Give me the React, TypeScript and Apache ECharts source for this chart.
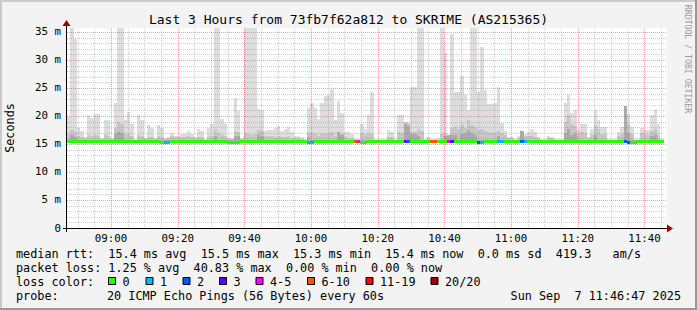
import React, { useEffect, useRef } from "react";
import * as echarts from "echarts";

const FONT = "'DejaVu Sans Mono', 'Liberation Mono', monospace";

const TITLE = "Last 3 Hours from 73fb7f62a812 to SKRIME (AS215365)";
const START_MINUTE = 8 * 60 + 46 + 47 / 60; // 08:46:47
const RANGE_MINUTES = 180;
const Y_MAX = 35.71;

const timeTickMinutes = [540, 560, 580, 600, 620, 640, 660, 680, 700];
const yTickValues = [0, 5, 10, 15, 20, 25, 30, 35];

// smoke: top of the lightest band (max ping), ms per 1-minute step
const smokeMax = [
  19.9, 38, 33.8, 17.9, 17.4, 16.2, 20.2, 19.6, 20.4, 20.3,
  16.0, 19.2, 19.2, 16.0, 22.3, 38, 38, 19.2, 20.7, 18.6,
  15.9, 20.1, 19.2, 16.0, 18.4, 17.9, 16.0, 18.4, 17.9, 16.0,
  16.2, 17.0, 16.5, 16.5, 16.7, 16.8, 17.4, 16.8, 16.2, 17.7,
  17.4, 15.9, 17.9, 18.6, 38, 38, 19.5, 18.8, 16.0, 16.0,
  23.2, 20.9, 16.0, 38, 38, 38, 38, 21.3, 21.1, 17.4,
  17.5, 17.5, 17.9, 18.3, 17.4, 17.7, 18.1, 17.1, 16.5, 16.5,
  16.2, 15.9, 21.5, 22.4, 21.5, 19.5, 22.4, 23.6, 23.8, 24.8,
  19.2, 22.7, 20.5, 17.1, 17.1, 16.8, 15.9, 15.9, 18.6, 17.7,
  20.2, 24.2, 15.9, 15.9, 15.9, 15.9, 17.5, 17.1, 15.9, 20.2,
  20.2, 18.9, 18.9, 25.1, 25.1, 38, 38, 15.9, 16.3, 15.9,
  15.9, 16.0, 38, 31.2, 16.5, 34.7, 24.2, 24.2, 27.2, 23.8,
  21.0, 38, 38, 24.2, 32.4, 24.6, 22.1, 22.1, 22.3, 25.1,
  18.8, 17.4, 16.2, 16.2, 15.9, 16.5, 17.4, 16.8, 17.1, 17.7,
  17.1, 16.2, 15.9, 15.9, 16.5, 16.3, 15.9, 15.9, 15.9, 22.4,
  23.7, 20.5, 21.1, 17.5, 18.6, 18.6, 16.3, 17.7, 21.1, 19.3,
  18.0, 18.0, 15.9, 15.9, 15.9, 17.1, 18.0, 21.7, 20.4, 18.0,
  15.9, 15.9, 17.9, 17.5, 17.5, 20.1, 21.1, 18.6, 15.9, null,
];

// smoke: top of the middle band
const smokeMid = [
  16.8, 17.5, 17.2, 16.4, 16.3, 16.0, 16.6, 16.5, 16.6, 16.4,
  15.9, 16.6, 16.5, 15.9, 17.8, 19.0, 18.5, 16.8, 16.7, 16.4,
  15.8, 16.6, 16.5, 15.9, 16.3, 16.2, 15.9, 16.4, 16.2, 15.9,
  16.0, 16.5, 16.2, 16.3, 16.2, 16.3, 16.4, 16.2, 16.0, 16.3,
  16.2, 15.8, 16.3, 16.4, 17.6, 17.0, 16.6, 16.5, 15.9, 15.9,
  17.4, 17.2, 15.9, 17.0, 16.8, 16.6, 16.7, 17.5, 17.3, 16.4,
  16.5, 16.4, 16.3, 16.4, 16.2, 16.3, 16.4, 16.1, 16.0, 16.0,
  15.9, 15.8, 17.2, 17.0, 16.8, 16.5, 16.9, 16.8, 17.0, 17.2,
  16.4, 17.1, 16.8, 16.2, 16.1, 16.1, 15.8, 15.8, 17.0, 16.6,
  16.9, 16.8, 15.8, 15.8, 15.8, 15.8, 16.3, 16.2, 15.8, 17.1,
  17.0, 18.9, 18.6, 17.1, 17.2, 17.6, 17.4, 15.8, 16.0, 15.8,
  15.8, 15.8, 16.8, 16.9, 16.6, 17.8, 18.0, 17.6, 18.4, 17.9,
  19.2, 18.4, 18.0, 17.5, 17.6, 17.3, 17.2, 17.0, 16.9, 17.4,
  17.0, 16.6, 16.0, 16.0, 15.8, 16.1, 17.4, 16.4, 16.4, 16.5,
  16.3, 16.0, 15.8, 15.8, 16.1, 16.0, 15.8, 15.8, 15.8, 19.0,
  20.2, 18.6, 18.2, 16.8, 17.2, 17.0, 16.0, 16.6, 18.3, 17.6,
  16.8, 16.7, 15.8, 15.8, 15.8, 16.4, 16.8, 21.7, 18.6, 16.8,
  15.8, 15.8, 16.9, 16.8, 16.6, 17.4, 17.6, 16.6, 15.8, null,
];

// smoke: top of the darkest band, closest to the median
const smokeLow = [
  15.8, 16.6, 16.3, 15.8, 15.8, 15.8, 15.8, 15.8, 15.8, 15.8,
  15.8, 15.8, 15.8, 15.8, 16.8, 17.2, 17.0, 15.8, 15.8, 15.8,
  15.8, 15.8, 15.8, 15.8, 15.8, 15.8, 15.8, 15.8, 15.8, 15.8,
  15.8, 15.8, 15.8, 15.8, 15.8, 15.8, 15.8, 15.8, 15.8, 15.8,
  15.8, 15.8, 15.8, 15.8, 16.4, 15.8, 15.8, 15.8, 15.8, 15.8,
  16.5, 16.4, 15.8, 15.8, 15.8, 15.8, 15.8, 16.6, 16.5, 15.8,
  15.8, 15.8, 15.8, 15.8, 15.8, 15.8, 15.8, 15.8, 15.8, 15.8,
  15.8, 15.8, 16.3, 15.8, 15.8, 15.8, 15.8, 15.8, 15.8, 15.8,
  15.8, 17.1, 16.6, 15.8, 15.8, 15.8, 15.8, 15.8, 15.8, 15.8,
  15.8, 15.8, 15.8, 15.8, 15.8, 15.8, 15.8, 15.8, 15.8, 15.8,
  15.8, 18.6, 18.2, 16.8, 16.8, 16.5, 15.8, 15.8, 15.8, 15.8,
  15.8, 15.8, 15.8, 16.4, 16.6, 16.6, 16.6, 15.8, 16.8, 16.9,
  17.5, 17.0, 16.6, 15.8, 15.8, 15.8, 15.8, 15.8, 15.8, 16.4,
  15.8, 15.8, 15.8, 15.8, 15.8, 15.8, 17.4, 15.8, 15.8, 15.8,
  15.8, 15.8, 15.8, 15.8, 15.8, 15.8, 15.8, 15.8, 15.8, 17.0,
  17.6, 16.6, 17.0, 15.8, 15.8, 15.8, 15.8, 15.8, 16.6, 15.8,
  15.8, 15.8, 15.8, 15.8, 15.8, 15.8, 15.8, 21.7, 17.0, 15.8,
  15.8, 15.8, 15.8, 15.8, 15.8, 16.5, 16.6, 15.8, 15.8, null,
];

// median rtt per step (ms)
const medianRtt = [
  15.4, 15.4, 15.4, 15.4, 15.4, 15.4, 15.4, 15.4, 15.4, 15.4,
  15.4, 15.4, 15.4, 15.4, 15.4, 15.4, 15.4, 15.4, 15.4, 15.4,
  15.4, 15.4, 15.4, 15.4, 15.4, 15.4, 15.5, 15.5, 15.3, 15.3,
  15.3, 15.4, 15.4, 15.4, 15.4, 15.5, 15.5, 15.4, 15.4, 15.4,
  15.4, 15.4, 15.4, 15.4, 15.4, 15.4, 15.5, 15.5, 15.3, 15.3,
  15.3, 15.3, 15.4, 15.5, 15.4, 15.4, 15.4, 15.4, 15.4, 15.5,
  15.5, 15.5, 15.5, 15.4, 15.4, 15.4, 15.4, 15.4, 15.4, 15.4,
  15.4, 15.4, 15.3, 15.3, 15.4, 15.4, 15.4, 15.4, 15.4, 15.4,
  15.5, 15.5, 15.4, 15.4, 15.4, 15.4, 15.4, 15.4, 15.3, 15.3,
  15.4, 15.4, 15.4, 15.4, 15.4, 15.4, 15.4, 15.4, 15.4, 15.4,
  15.4, 15.4, 15.4, 15.4, 15.4, 15.4, 15.4, 15.5, 15.5, 15.4,
  15.4, 15.4, 15.4, 15.4, 15.4, 15.4, 15.5, 15.5, 15.4, 15.4,
  15.4, 15.4, 15.4, 15.3, 15.3, 15.4, 15.4, 15.4, 15.4, 15.4,
  15.5, 15.5, 15.5, 15.4, 15.4, 15.4, 15.4, 15.4, 15.4, 15.4,
  15.4, 15.4, 15.4, 15.4, 15.4, 15.4, 15.4, 15.4, 15.4, 15.4,
  15.5, 15.5, 15.5, 15.4, 15.4, 15.4, 15.4, 15.4, 15.5, 15.4,
  15.4, 15.4, 15.4, 15.4, 15.4, 15.4, 15.4, 15.4, 15.3, 15.3,
  15.3, 15.4, 15.4, 15.4, 15.4, 15.5, 15.5, 15.4, 15.4, null,
];

// lost pings (of 20) per step
const lossCount = [
  0, 0, 0, 0, 0, 0, 0, 0, 0, 0,
  0, 0, 0, 0, 0, 0, 0, 0, 0, 0,
  0, 0, 0, 0, 0, 0, 0, 0, 0, 1,
  1, 0, 0, 0, 0, 0, 0, 0, 0, 0,
  0, 0, 0, 0, 0, 0, 0, 0, 0, 0,
  0, 0, 0, 0, 0, 0, 0, 0, 0, 0,
  0, 0, 0, 0, 0, 0, 0, 0, 0, 0,
  0, 0, 1, 1, 0, 0, 0, 0, 0, 0,
  0, 0, 0, 0, 0, 0, 7, 4, 0, 0,
  0, 0, 0, 0, 0, 0, 0, 0, 0, 0,
  0, 3, 2, 0, 0, 0, 0, 0, 0, 8,
  8, 0, 0, 0, 4, 3, 0, 0, 0, 0,
  0, 0, 0, 2, 1, 0, 0, 0, 0, 1,
  1, 0, 0, 0, 0, 0, 2, 1, 0, 0,
  0, 0, 0, 0, 0, 0, 0, 0, 0, 0,
  0, 0, 0, 0, 0, 0, 0, 0, 0, 0,
  0, 0, 0, 0, 0, 0, 0, 2, 2, 0,
  0, 0, 0, 0, 0, 0, 0, 0, 0, 0,
];

const lossLabels = ["0", "1", "2", "3", "4-5", "6-10", "11-19", "20/20"];
const lossUpper = [0, 1, 2, 3, 5, 10, 19, 20];
const lossColors = ["#26ff00", "#00b8ff", "#0059ff", "#5e00ff", "#ff00ff", "#ff5500", "#ff0000", "#a00000"];
const lossBoxX = [108, 145.5, 182.5, 219, 255.5, 307, 365.5, 430.5];

const statLines = [
  "median rtt:  15.4 ms avg  15.5 ms max  15.3 ms min  15.4 ms now  0.0 ms sd  419.3   am/s",
  "packet loss: 1.25 % avg  40.83 % max  0.00 % min  0.00 % now",
];
const probeLabel = "probe:";
const probeText = "20 ICMP Echo Pings (56 Bytes) every 60s";
const dateText = "Sun Sep  7 11:46:47 2025";

const SMOKE_COLORS = ["#dddddd", "#c6c6c6", "#aaaaaa"];
const GRID_MINOR = "rgba(128,128,128,0.37)";
const GRID_MAJOR = "rgba(255,0,0,0.37)";

function lossBucket(n: number): number {
  for (let i = 0; i < lossUpper.length; i++) if (n <= lossUpper[i]) return i;
  return lossUpper.length - 1;
}

function hhmm(v: number): string {
  const m = Math.round(v);
  const h = Math.floor(m / 60);
  const mm = m % 60;
  return (h < 10 ? "0" : "") + h + ":" + (mm < 10 ? "0" : "") + mm;
}

export default function App() {
  const ref = useRef<HTMLDivElement>(null);

  useEffect(() => {
    if (!ref.current) return;
    const chart = echarts.init(ref.current, undefined, { renderer: "svg" });

    const vGrid: number[][] = [];
    for (let m = 530; m < START_MINUTE + RANGE_MINUTES; m += 5) {
      vGrid.push([m, 0, m % 20 === 0 ? 1 : 0]);
    }
    const hGrid: number[][] = [];
    for (let v = 1; v <= 35; v++) hGrid.push([START_MINUTE, v, v % 5 === 0 ? 1 : 0]);

    const smokeData = smokeMax.map((mx, i) => [
      START_MINUTE + i,
      medianRtt[i] as any,
      smokeLow[i] as any,
      smokeMid[i] as any,
      mx as any,
    ]);
    const medianData = medianRtt.map((m, i) => [START_MINUTE + i, m as any, lossCount[i]]);

    const legendGraphics: any[] = [];
    lossLabels.forEach((lab, i) => {
      legendGraphics.push({
        type: "rect",
        shape: { x: lossBoxX[i] + 0.5, y: 277.5, width: 7, height: 7 },
        style: { fill: lossColors[i], stroke: "#000", lineWidth: 1 },
        z: 20,
      });
      legendGraphics.push({
        type: "text",
        x: lossBoxX[i] + 14.5,
        y: 282,
        style: { text: lab, font: `11.8px ${FONT}`, fill: "#000", verticalAlign: "middle" },
        z: 20,
      });
    });

    chart.setOption({
      animation: false,
      backgroundColor: "#f3f3f3",
      grid: {
        left: 67,
        top: 28,
        width: 600,
        height: 200,
        show: true,
        backgroundColor: "#ffffff",
        borderWidth: 0,
      },
      xAxis: {
        type: "value",
        min: START_MINUTE,
        max: START_MINUTE + RANGE_MINUTES,
        axisLine: { show: false },
        axisTick: { show: false },
        splitLine: { show: false },
        axisLabel: {
          customValues: timeTickMinutes,
          margin: 5,
          fontFamily: FONT,
          fontSize: 10.8,
          color: "#000",
          formatter: (v: number) => {
            const m = Math.round(v);
            if (Math.abs(v - m) > 0.01 || m % 20 !== 0) return "";
            return hhmm(m);
          },
        },
      },
      yAxis: {
        type: "value",
        min: 0,
        max: Y_MAX,
        interval: 5,
        axisLine: { show: false },
        axisTick: { show: false },
        splitLine: { show: false },
        axisLabel: {
          margin: 6,
          fontFamily: FONT,
          fontSize: 10.8,
          color: "#000",
          formatter: (v: number) => {
            if (yTickValues.indexOf(v) < 0) return "";
            return v === 0 ? "0" : v + " m";
          },
        },
      },
      series: [
        {
          type: "custom",
          name: "smoke",
          encode: { x: 0, y: 1 },
          z: 2,
          data: smokeData,
          renderItem: (params: any, api: any) => {
            const t = api.value(0);
            const med = api.value(1);
            if (med == null || isNaN(med)) return null;
            const cs = params.coordSys;
            const x0 = Math.round(api.coord([t, 0])[0]);
            const x1 = Math.min(Math.round(api.coord([t + 1, 0])[0]), cs.x + cs.width);
            const yOf = (v: number) => Math.max(cs.y, Math.round(api.coord([t, v])[1]));
            const base = yOf(med);
            const children: any[] = [];
            [4, 3, 2].forEach((dim, k) => {
              const v = api.value(dim);
              if (v == null || isNaN(v)) return;
              const top = yOf(v);
              if (top < base) {
                children.push({
                  type: "rect",
                  shape: { x: x0, y: top, width: x1 - x0, height: base - top },
                  style: { fill: SMOKE_COLORS[k] },
                });
              }
            });
            return { type: "group", children };
          },
        },
        {
          type: "custom",
          name: "vgrid",
          encode: { x: 0, y: 1 },
          z: 3,
          silent: true,
          data: vGrid,
          renderItem: (params: any, api: any) => {
            const cs = params.coordSys;
            const x = Math.round(api.coord([api.value(0), 0])[0]) + 0.5;
            return {
              type: "line",
              shape: { x1: x, y1: cs.y, x2: x, y2: cs.y + cs.height },
              style: { stroke: api.value(2) ? GRID_MAJOR : GRID_MINOR, lineWidth: 1, lineDash: [1, 1] },
            };
          },
        },
        {
          type: "custom",
          name: "hgrid",
          encode: { x: 0, y: 1 },
          z: 3,
          silent: true,
          data: hGrid,
          renderItem: (params: any, api: any) => {
            const cs = params.coordSys;
            const y = Math.round(api.coord([START_MINUTE, api.value(1)])[1]) + 0.5;
            return {
              type: "line",
              shape: { x1: cs.x, y1: y, x2: cs.x + cs.width, y2: y },
              style: { stroke: api.value(2) ? GRID_MAJOR : GRID_MINOR, lineWidth: 1, lineDash: [1, 1] },
            };
          },
        },
        {
          type: "custom",
          name: "median",
          encode: { x: 0, y: 1 },
          z: 4,
          data: medianData,
          renderItem: (params: any, api: any) => {
            const t = api.value(0);
            const med = api.value(1);
            if (med == null || isNaN(med)) return null;
            const cs = params.coordSys;
            const x0 = Math.round(api.coord([t, 0])[0]);
            const x1 = Math.min(Math.round(api.coord([t + 1, 0])[0]), cs.x + cs.width);
            const yc = api.coord([t, med])[1];
            const y = Math.round(yc - 1.5);
            return {
              type: "rect",
              shape: { x: x0, y, width: x1 - x0, height: 3 },
              style: { fill: lossColors[lossBucket(api.value(2))] },
            };
          },
        },
      ],
      graphic: [
        { type: "rect", shape: { x: 0, y: 0, width: 697, height: 2 }, style: { fill: "#cbcbcb" }, z: 20 },
        { type: "rect", shape: { x: 0, y: 0, width: 2, height: 310 }, style: { fill: "#cbcbcb" }, z: 20 },
        { type: "rect", shape: { x: 0, y: 308, width: 697, height: 2 }, style: { fill: "#999999" }, z: 20 },
        { type: "rect", shape: { x: 695, y: 0, width: 2, height: 310 }, style: { fill: "#999999" }, z: 20 },
        {
          type: "text",
          x: 348.5,
          y: 19,
          style: { text: TITLE, font: `13px ${FONT}`, fill: "#000", align: "center", verticalAlign: "middle" },
          z: 20,
        },
        {
          type: "text",
          x: 10,
          y: 128,
          rotation: Math.PI / 2,
          style: { text: "Seconds", font: `11.8px ${FONT}`, fill: "#000", align: "center", verticalAlign: "middle" },
          z: 20,
        },
        {
          type: "text",
          x: 688,
          y: 59,
          rotation: -Math.PI / 2,
          style: { text: "RRDTOOL / TOBI OETIKER", font: `8.2px ${FONT}`, fill: "#999999", align: "center", verticalAlign: "middle" },
          z: 20,
        },
        // axis lines with arrows
        { type: "line", shape: { x1: 63, y1: 228.5, x2: 668, y2: 228.5 }, style: { stroke: "#000", lineWidth: 1 }, z: 15 },
        { type: "polygon", shape: { points: [[667, 224.5], [673, 228.5], [667, 232.5]] }, style: { fill: "#a00000" }, z: 15 },
        { type: "line", shape: { x1: 66.5, y1: 232, x2: 66.5, y2: 25 }, style: { stroke: "#000", lineWidth: 1 }, z: 15 },
        { type: "polygon", shape: { points: [[62.5, 26], [66.5, 20], [70.5, 26]] }, style: { fill: "#a00000" }, z: 15 },
        {
          type: "text",
          x: 16,
          y: 254,
          style: { text: statLines[0], font: `11.8px ${FONT}`, fill: "#000", verticalAlign: "middle" },
          z: 20,
        },
        {
          type: "text",
          x: 16,
          y: 268,
          style: { text: statLines[1], font: `11.8px ${FONT}`, fill: "#000", verticalAlign: "middle" },
          z: 20,
        },
        {
          type: "text",
          x: 16,
          y: 282,
          style: { text: "loss color:", font: `11.8px ${FONT}`, fill: "#000", verticalAlign: "middle" },
          z: 20,
        },
        ...legendGraphics,
        {
          type: "text",
          x: 16,
          y: 296,
          style: { text: probeLabel, font: `11.8px ${FONT}`, fill: "#000", verticalAlign: "middle" },
          z: 20,
        },
        {
          type: "text",
          x: 107,
          y: 296,
          style: { text: probeText, font: `11.8px ${FONT}`, fill: "#000", verticalAlign: "middle" },
          z: 20,
        },
        {
          type: "text",
          x: 681,
          y: 296,
          style: { text: dateText, font: `11.8px ${FONT}`, fill: "#000", align: "right", verticalAlign: "middle" },
          z: 20,
        },
      ],
    });

    return () => chart.dispose();
  }, []);

  return (
    <div
      ref={ref}
      style={{ position: "fixed", left: 0, top: 0, width: 697, height: 310 }}
    />
  );
}
